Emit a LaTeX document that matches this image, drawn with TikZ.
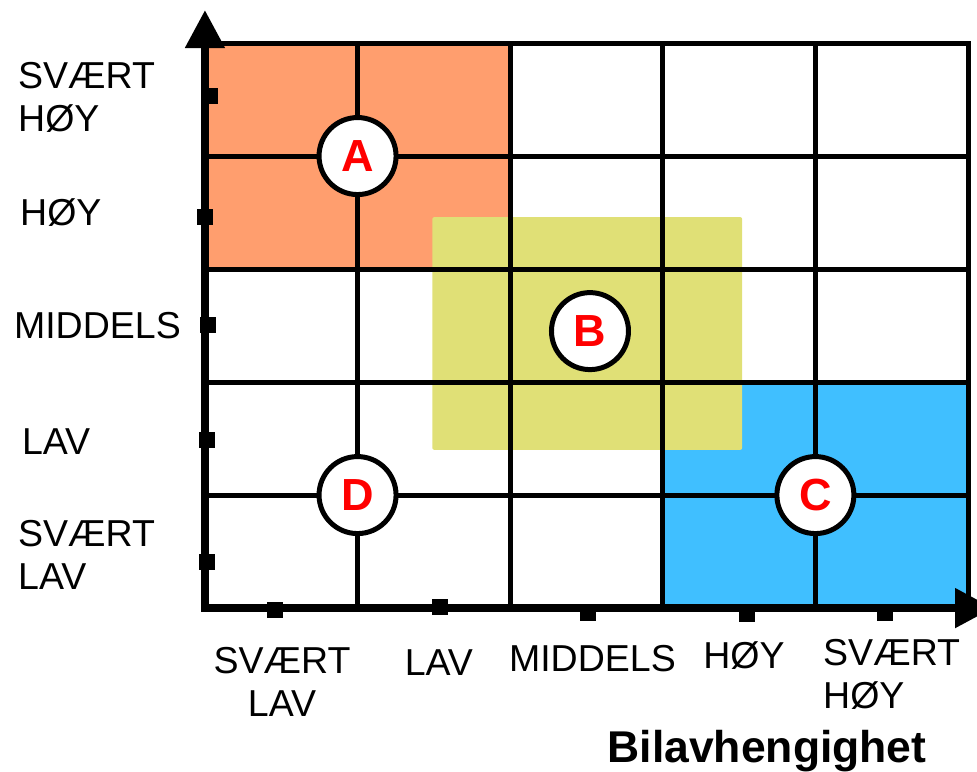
\documentclass[tikz,border=0pt]{standalone}
\usepackage{fontspec}
\setmainfont{Liberation Sans}
\usetikzlibrary{arrows.meta}
\definecolor{zoneA}{RGB}{255,158,110}
\definecolor{zoneB}{RGB}{224,224,118}
\definecolor{zoneC}{RGB}{64,191,255}
\begin{document}
\begin{tikzpicture}[x=152.6pt,y=113pt]
        \tikzstyle{gridline}=[line width=5pt,draw=black]
        \tikzstyle{axisline}=[line width=8pt,draw=black,{Triangle[length=38pt,width=38pt]}-{Triangle[length=38pt,width=38pt]}]
        \tikzstyle{tickmark}=[rectangle,fill=black,inner sep=0pt,minimum width=16pt,minimum height=16pt]
        \tikzstyle{levelname}=[inner sep=0pt,align=left,font=\fontsize{37.5}{43}\selectfont]
        \tikzstyle{zonemark}=[circle,draw=black,line width=5pt,fill=white,minimum size=77pt,inner sep=0pt,text=red,font=\fontsize{45}{45}\selectfont\bfseries]
       \useasboundingbox (-1.343,-1.442) rectangle (5.059,5.381);
       \begin{scope}
         \fill[zoneA] (0,3) rectangle (2,5.02);
         \fill[zoneC] (3,0) rectangle (5,2);
         \fill[zoneB,rounded corners=2pt] (1.49,1.40) rectangle (3.52,3.46);

         \foreach \i in {1,...,4} {
           \draw[gridline] (\i,0) -- (\i,5);
           \draw[gridline] (0,\i) -- (5,\i);
         }
         \draw[gridline] (0,5) -- (5,5) -- (5,0);
         \draw[axisline] (0,5.292) |- (5.164,0);
       \end{scope}

       \begin{scope}
         \node [tickmark] (ty1) at (0.013,0.407) {};
         \node [tickmark] (ty2) at (0.013,1.487) {};
         \node [tickmark] (ty3) at (0.02,2.504) {};
         \node [tickmark] (ty4) at (0.0,3.46) {};
         \node [tickmark] (ty5) at (0.03,4.531) {};

         \node [tickmark] (tx1) at (0.459,-0.018) {};
         \node [tickmark] (tx2) at (1.54,0.009) {};
         \node [tickmark] (tx3) at (2.51,-0.044) {};
         \node [tickmark] (tx4) at (3.552,-0.053) {};
         \node [tickmark] (tx5) at (4.456,-0.044) {};
       \end{scope}

       \begin{scope}
         \node [zonemark] (A) at (1,4) {A};
         \node [zonemark] (B) at (2.523,2.451) {B};
         \node [zonemark] (C) at (4,1) {C};
         \node [zonemark] (D) at (1,1) {D};
       \end{scope}

       \begin{scope}
         \node [levelname,anchor=west] (ly5) at (-1.225,4.518) {SVÆRT\\HØY};
         \node [levelname,anchor=west] (ly4) at (-1.212,3.496) {HØY};
         \node [levelname,anchor=west] (ly3) at (-1.252,2.504) {MIDDELS};
         \node [levelname,anchor=west] (ly2) at (-1.2,1.473) {LAV};
         \node [levelname,anchor=west] (ly1) at (-1.225,0.469) {SVÆRT\\LAV};

         \node [levelname,align=center] (lx1) at (0.505,-0.65) {SVÆRT\\LAV};
         \node [levelname] (lx2) at (1.533,-0.482) {LAV};
         \node [levelname] (lx3) at (2.539,-0.451) {MIDDELS};
         \node [levelname] (lx4) at (3.532,-0.416) {HØY};
         \node [levelname,anchor=west] (lx5) at (4.05,-0.584) {SVÆRT\\HØY};

         \node [inner sep=0pt,anchor=base,font=\fontsize{44.5}{44.5}\selectfont\bfseries] (xname) at (3.683,-1.363) {Bilavhengighet};
       \end{scope}
      \end{tikzpicture}
\end{document}
